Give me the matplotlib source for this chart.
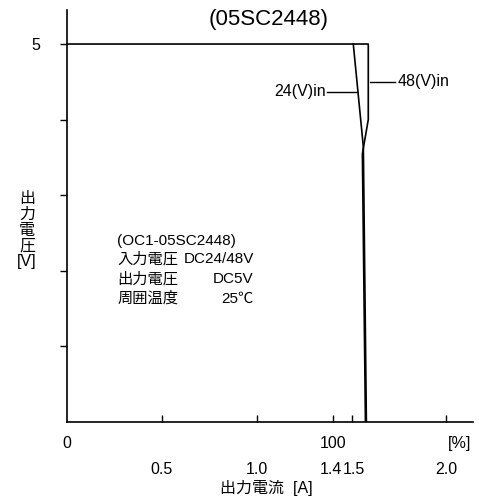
import matplotlib
matplotlib.use("Agg")
import matplotlib.pyplot as plt

plt.rcParams['font.family'] = ['Liberation Sans', 'Noto Sans CJK JP', 'DejaVu Sans']

# curves (output current A, output voltage V)
curve48_x = [0.0, 1.588, 1.588, 1.557, 1.573]
curve48_y = [5.0, 5.0, 4.0, 3.55, 0.0]
curve24_x = [1.509, 1.562, 1.578]
curve24_y = [5.0, 3.64, 0.0]

pct_labels = [(0.0, '0'), (1.4, '100'), (2.07, '[%]')]
amp_labels = [(0.5, '0.5'), (1.0, '1.0'), (1.39, '1.4'), (1.51, '1.5'), (2.0, '2.0')]

info_left = ['入力電圧', '出力電圧', '周囲温度']
info_right = ['DC24/48V', 'DC5V', '25℃']

fig = plt.figure(figsize=(4.79, 4.99), dpi=100)
ax = fig.add_axes([67/479, 77/499, 406/479, 412/499])

ax.plot(curve48_x, curve48_y, color='black', lw=1.2)
ax.plot(curve24_x, curve24_y, color='black', lw=1.2)

ax.set_xlim(0, 2.14)
ax.set_ylim(0, 5.45)
ax.spines['top'].set_visible(False)
ax.spines['right'].set_visible(False)
for s in ['left', 'bottom']:
    ax.spines[s].set_linewidth(1.2)

ax.set_yticks([1, 2, 3, 4, 5])
ax.set_yticklabels(['', '', '', '', '5'], fontsize=11.5)
ax.tick_params(axis='y', direction='out', length=5, width=1, pad=14)
ax.set_xticks([0.5, 1.0, 1.4, 1.5, 2.0])
ax.set_xticklabels([])
ax.tick_params(axis='x', direction='in', length=5, width=1)

for x, t in pct_labels:
    ax.text(x, -0.28, t, ha='center', va='center', fontsize=11.5, clip_on=False)
for x, t in amp_labels:
    ax.text(x, -0.63, t, ha='center', va='center', fontsize=11.5, clip_on=False)
ax.text(1.05, -0.87, '出力電流  [A]', ha='center', va='center', fontsize=11.5, clip_on=False)

fig.text(27/479, 1 - 230/499, '出\n力\n電\n圧\n[V]', ha='center', va='center',
         fontsize=11.5, linespacing=1.05)

fig.text(269/479, 1 - 19/499, '(05SC2448)', ha='center', va='center', fontsize=16)

# annotations
ax.plot([1.372, 1.530], [4.37, 4.37], color='black', lw=1)
ax.text(1.365, 4.37, '24(V)in', ha='right', va='center', fontsize=11.5)
ax.plot([1.599, 1.731], [4.50, 4.50], color='black', lw=1)
ax.text(1.745, 4.50, '48(V)in', ha='left', va='center', fontsize=11.5)

# info block
ax.text(0.265, 2.4, '(OC1-05SC2448)', ha='left', va='center', fontsize=11)
for i, (a, b) in enumerate(zip(info_left, info_right)):
    y = 2.15 - i * 0.26
    ax.text(0.265, y, a, ha='left', va='center', fontsize=11)
    ax.text(0.985, y, b, ha='right', va='center', fontsize=11)

fig.savefig('out.png', dpi=100)
